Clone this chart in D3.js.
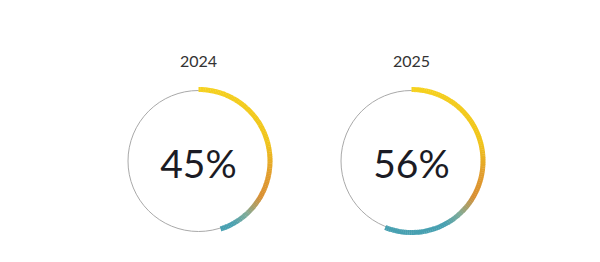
<!DOCTYPE html>
<html lang="en">
<head>
	<meta charset="UTF-8"/>
	<title>Progress rings</title>
	<script src="https://d3js.org/d3.v7.min.js"></script>
	<style>
		body { margin: 0; background: #fff; }
	</style>
</head>
<body>
	<script>
	var w = 600;
	var h = 262;

	var years = ["2024", "2025"];
	var values = [45, 56];

	// colour along the ring, by angle from the top (degrees)
	var stopAngles = [0, 75, 100, 120, 138, 152, 360];
	var stopColors = ["#f6d21e", "#f1c51a", "#e29d2b", "#d98f31", "#7eab98", "#47a0b1", "#47a0b1"];

	var centerX = d3.scaleBand()
		.domain(years)
		.range([92, 518]);

	var pct = d3.scaleLinear()
		.domain([0, 100])
		.range([0, 2 * Math.PI]);

	var colorAt = d3.scaleLinear()
		.domain(stopAngles)
		.range(stopColors)
		.interpolate(d3.interpolateRgb);

	var rGrey = 70.5;
	var cy = 161;

	var svg = d3.select("body")
		.append("svg")
		.attr("width", w)
		.attr("height", h);

	var g = svg.selectAll("g.ring")
		.data(years)
		.enter()
		.append("g")
		.attr("class", "ring")
		.attr("transform", function(d) {
			return "translate(" + (centerX(d) + centerX.bandwidth() / 2) + "," + cy + ")";
		});

	g.append("circle")
		.attr("r", rGrey)
		.attr("fill", "none")
		.attr("stroke", "#a9a9a9")
		.attr("stroke-width", 1);

	var arc = d3.arc()
		.innerRadius(69)
		.outerRadius(74);

	// gradient arc built from small slices
	var steps = 120;
	g.each(function(d, i) {
		var end = pct(values[i]);
		var pieces = d3.range(steps).map(function(k) {
			var mid = end * (k + 0.5) / steps;
			return { a0: end * k / steps, a1: end * (k + 1) / steps + 0.004, deg: mid * 180 / Math.PI };
		});
		d3.select(this).selectAll("path")
			.data(pieces)
			.enter()
			.append("path")
			.attr("d", function(p) {
				return arc({ startAngle: p.a0, endAngle: Math.min(p.a1, end) });
			})
			.attr("fill", function(p) { return colorAt(p.deg); });
	});

	g.append("text")
		.attr("y", -94)
		.attr("text-anchor", "middle")
		.attr("font-family", "Lato, sans-serif")
		.attr("font-size", "16px")
		.attr("fill", "#333")
		.text(function(d) { return d; });

	g.append("text")
		.attr("y", 17)
		.attr("text-anchor", "middle")
		.attr("font-family", "Lato, sans-serif")
		.attr("font-size", "39px")
		.attr("fill", "#1b1b24")
		.text(function(d, i) { return values[i] + "%"; });
	</script>
</body>
</html>
